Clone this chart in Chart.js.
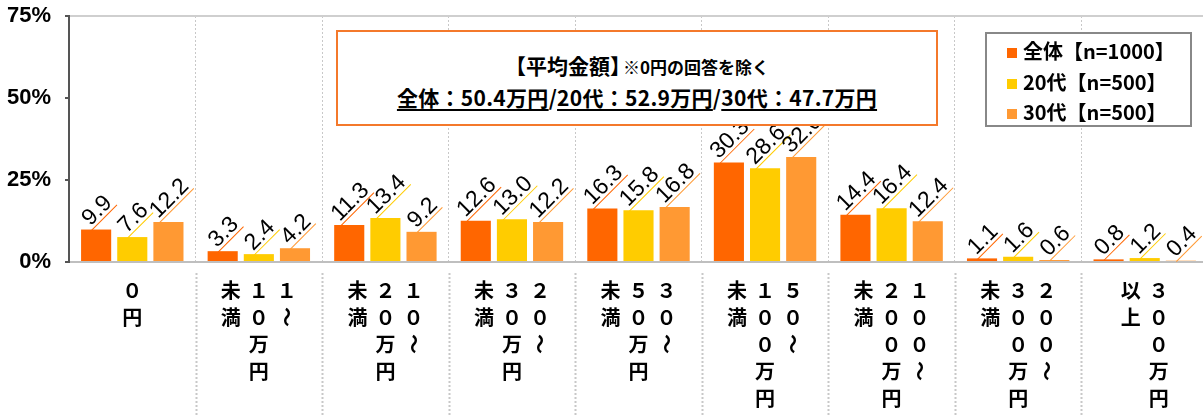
<!DOCTYPE html>
<html>
<head>
<meta charset="utf-8">
<script src="https://cdn.jsdelivr.net/npm/chart.js@4.4.1/dist/chart.umd.min.js"></script>
<style>
  body { margin: 0; overflow: hidden; background: #fff; font-family: 'Noto Sans CJK JP', sans-serif; }
  #wrap { position: relative; width: 1208px; height: 415px; }
  #note {
    position: absolute; left: 336px; top: 30px; width: 598px; height: 92px;
    border: 2px solid #f4792b; background: #fff; text-align: center; font-weight: bold; color: #000;
  }
  #note .l1 { position: absolute; left: 0; right: 0; top: 20px; font-size: 21px; line-height: 26px; }
  #note .l1 small { font-size: 17px; margin-left: -8px; }
  #note .l2 { position: absolute; left: 0; right: 0; top: 52px; font-size: 21px; line-height: 26px; letter-spacing: 0.3px; }
  #note u { text-decoration-thickness: 2px; text-underline-offset: 3px; }
  #legend {
    position: absolute; left: 985px; top: 32px; width: 203px; height: 91px;
    border: 2px solid #888; background: #fff; font-weight: bold; font-size: 20px; color: #000;
  }
  #legend div { position: absolute; left: 20px; height: 26px; line-height: 26px; white-space: nowrap; }
  #legend span { display: inline-block; width: 10px; height: 10px; margin-right: 6px; vertical-align: 1px; }
</style>
</head>
<body>
<div id="wrap">
  <canvas id="chart" width="1208" height="415"></canvas>
  <div id="note"></div>
  <div id="legend"></div>
</div>
<script>
const categories = ['0円', '1～10万円未満', '10～20万円未満', '20～30万円未満', '30～50万円未満',
  '50～100万円未満', '100～200万円未満', '200～300万円未満', '300万円以上']
// vertical label columns, read right to left
const labelColumns = [
  ['０円'],
  ['１～', '１０万円', '未満'],
  ['１０～', '２０万円', '未満'],
  ['２０～', '３０万円', '未満'],
  ['３０～', '５０万円', '未満'],
  ['５０～', '１００万円', '未満'],
  ['１００～', '２００万円', '未満'],
  ['２００～', '３００万円', '未満'],
  ['３００万円', '以上'],
]
const seriesNames = ['全体【n=1000】', '20代【n=500】', '30代【n=500】']
const seriesColors = ['#ff6600', '#ffcc00', '#ff9933']
const valuesAll = [9.9, 3.3, 11.3, 12.6, 16.3, 30.3, 14.4, 1.1, 0.8]
const values20s = [7.6, 2.4, 13.4, 13.0, 15.8, 28.6, 16.4, 1.6, 1.2]
const values30s = [12.2, 4.2, 9.2, 12.2, 16.8, 32.0, 12.4, 0.6, 0.4]
const yTicks = [0, 25, 50, 75]
const averageGroups = ['全体', '20代', '30代']
const averageValues = [50.4, 52.9, 47.7]

const GRID = '#c8c8c8'

const valueLabels = {
  id: 'valueLabels',
  afterDatasetsDraw(chart) {
    const { ctx } = chart
    const size = 23
    ctx.save()
    ctx.font = `${size}px 'Liberation Sans', Arial, sans-serif`
    ctx.textAlign = 'center'
    ctx.textBaseline = 'alphabetic'
    chart.data.datasets.forEach((ds, di) => {
      chart.getDatasetMeta(di).data.forEach((bar, i) => {
        const text = ds.data[i].toFixed(1)
        const w = ctx.measureText(text).width
        const h = 16
        const half = (w + h) * 0.3536
        ctx.save()
        ctx.translate(bar.x, bar.y - 3 - half)
        ctx.rotate(-Math.PI / 4)
        ctx.fillStyle = '#000'
        ctx.fillText(text, 0, 8)
        ctx.strokeStyle = ds.backgroundColor
        ctx.lineWidth = 1
        ctx.beginPath()
        ctx.moveTo(-w / 2 - 2, 11.5)
        ctx.lineTo(w / 2 + 2, 11.5)
        ctx.stroke()
        ctx.restore()
      })
    })
    ctx.restore()
  },
}

const verticalCategoryLabels = {
  id: 'verticalCategoryLabels',
  afterDraw(chart) {
    const { ctx, chartArea, scales: { x } } = chart
    ctx.save()
    // dotted separators under the axis
    ctx.strokeStyle = GRID
    ctx.lineWidth = 2
    ctx.setLineDash([2, 2])
    for (let i = 1; i < categories.length; i++) {
      const px = Math.round((x.getPixelForValue(i - 1) + x.getPixelForValue(i)) / 2) + 0.5
      ctx.beginPath()
      ctx.moveTo(px, chartArea.bottom + 11)
      ctx.lineTo(px, chart.height)
      ctx.stroke()
    }
    ctx.setLineDash([])
    ctx.font = "bold 20px 'Noto Sans CJK JP', sans-serif"
    ctx.fillStyle = '#000'
    ctx.textAlign = 'center'
    ctx.textBaseline = 'middle'
    labelColumns.forEach((cols, i) => {
      const cx = x.getPixelForValue(i)
      const n = cols.length
      cols.forEach((col, j) => {
        const colX = cx + ((n - 1) / 2) * 28 - j * 28
        Array.from(col).forEach((ch, r) => {
          const rowY = chartArea.bottom + 28 + r * 27
          if (ch === '～') {
            ctx.save()
            ctx.translate(colX, rowY)
            ctx.rotate(Math.PI / 2)
            ctx.fillText(ch, 0, 0)
            ctx.restore()
          } else {
            ctx.fillText(ch, colX, rowY)
          }
        })
      })
    })
    ctx.restore()
  },
}

const chart = new Chart(document.getElementById('chart'), {
  type: 'bar',
  data: {
    labels: categories,
    datasets: [valuesAll, values20s, values30s].map((data, i) => ({
      label: seriesNames[i],
      data,
      backgroundColor: seriesColors[i],
      categoryPercentage: 0.857,
      barPercentage: 0.833,
    })),
  },
  options: {
    responsive: false,
    animation: false,
    layout: {
      padding: { top: 16, right: 0, bottom: 153, left: 0 },
    },
    plugins: {
      legend: { display: false },
      tooltip: { enabled: false },
    },
    scales: {
      x: {
        offset: true,
        grid: {
          offset: true,
          color: GRID,
          lineWidth: 1,
          drawTicks: false,
        },
        border: { color: '#bfbfbf', width: 2, dash: [2, 2] },
        ticks: { display: false },
      },
      y: {
        min: 0,
        max: 75,
        afterFit(scale) {
          scale.width = 69
          scale.paddingTop = 0
          scale.paddingBottom = 0
        },
        afterBuildTicks(scale) {
          scale.ticks = yTicks.map((value) => ({ value }))
        },
        grid: {
          color: (c) => (c.tick && c.tick.value === 75 ? '#cfcfcf' : 'transparent'),
          lineWidth: 2,
          tickLength: 4,
          tickColor: '#555',
        },
        border: { color: '#555', width: 2 },
        ticks: {
          padding: 14,
          color: '#000',
          font: { family: "'Liberation Sans', Arial, sans-serif", size: 22, weight: 'bold' },
          callback: (v) => v + '%',
        },
      },
    },
  },
  plugins: [valueLabels, verticalCategoryLabels],
})

// note box
const note = document.getElementById('note')
note.innerHTML =
  '<div class="l1">【平均金額】<small>※0円の回答を除く</small></div>' +
  '<div class="l2">' +
  averageGroups.map((g, i) => `<u>${g}：${averageValues[i].toFixed(1)}万円</u>`).join('/') +
  '</div>'

// legend from the datasets
const legend = document.getElementById('legend')
chart.data.datasets.forEach((ds, i) => {
  const row = document.createElement('div')
  row.style.top = 4 + i * 30.5 + 'px'
  row.innerHTML = `<span style="background:${ds.backgroundColor}"></span>${ds.label}`
  legend.appendChild(row)
})
</script>
</body>
</html>
